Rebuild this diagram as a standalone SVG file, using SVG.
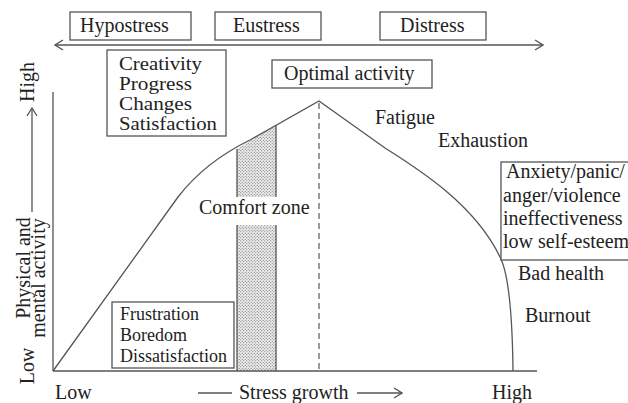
<svg xmlns="http://www.w3.org/2000/svg" width="628" height="403" viewBox="0 0 628 403">
<style>
text{font-family:"Liberation Serif","Times New Roman",serif;fill:#222;}
.t20{font-size:20px;}
.t18{font-size:18px;}
.box{fill:#fff;stroke:#555;stroke-width:1.3;}
.ln{fill:none;stroke:#555;stroke-width:1.3;}
.dash{fill:none;stroke:#666;stroke-width:1.3;stroke-dasharray:6 4;}
</style>
<defs>
<pattern id="dots" width="3" height="3" patternUnits="userSpaceOnUse">
<rect width="3" height="3" fill="#eeeeee"/>
<circle cx="0.75" cy="0.75" r="0.6" fill="#666"/>
<circle cx="2.25" cy="2.25" r="0.6" fill="#666"/>
</pattern>
<marker id="chev" markerWidth="10" markerHeight="12" refX="9" refY="6" orient="auto" markerUnits="userSpaceOnUse">
<path d="M1,1 L9,6 L1,11" fill="none" stroke="#555" stroke-width="1.3"/>
</marker>
<marker id="chevS" markerWidth="10" markerHeight="12" refX="1" refY="6" orient="auto" markerUnits="userSpaceOnUse">
<path d="M9,1 L1,6 L9,11" fill="none" stroke="#555" stroke-width="1.3"/>
</marker>
</defs>
<rect width="628" height="403" fill="#fff"/>

<g id="comfort-zone">
<polygon points="237,149 276,125 276,197 237,197" fill="url(#dots)"/>
<polygon points="237,225 276,225 276,371 237,371" fill="url(#dots)"/>
<path class="ln" d="M237,149 V197 M276,125 V197 M237,225 V371 M276,225 V371"/>
<text class="t20" x="199" y="214">Comfort zone</text>
</g>

<g id="connectors">
<line class="ln" x1="55" y1="45" x2="543" y2="45" marker-start="url(#chevS)" marker-end="url(#chev)"/>
<line class="ln" x1="53" y1="92" x2="53" y2="371"/>
<line class="ln" x1="53" y1="371" x2="537" y2="371"/>
<line class="ln" x1="32" y1="212" x2="32" y2="108" marker-end="url(#chev)"/>
<line class="ln" x1="198" y1="393" x2="232" y2="393"/>
<line class="ln" x1="357" y1="393" x2="402" y2="393" marker-end="url(#chev)"/>
<line class="dash" x1="319" y1="103" x2="319" y2="371"/>
<path class="ln" d="M53,371 L178,197 Q205,162 250,140 L319,101 L385,148 C420,170 475,205 500,257 Q512,280 513,371"/>
</g>

<g id="hypostress">
<rect class="box" x="70" y="12" width="121" height="28"/>
<text class="t20" x="80" y="32">Hypostress</text>
</g>
<g id="eustress">
<rect class="box" x="215" y="12" width="106" height="28"/>
<text class="t20" x="233" y="32">Eustress</text>
</g>
<g id="distress">
<rect class="box" x="380" y="12" width="106" height="28"/>
<text class="t20" x="400" y="32">Distress</text>
</g>

<g id="creativity">
<rect class="box" x="107" y="50" width="119" height="86"/>
<text class="t18" x="119" y="70" textLength="83" lengthAdjust="spacingAndGlyphs">Creativity</text>
<text class="t18" x="119" y="90" textLength="73" lengthAdjust="spacingAndGlyphs">Progress</text>
<text class="t18" x="119" y="110" textLength="73" lengthAdjust="spacingAndGlyphs">Changes</text>
<text class="t18" x="119" y="130" textLength="98" lengthAdjust="spacingAndGlyphs">Satisfaction</text>
</g>

<g id="optimal-activity">
<rect class="box" x="272" y="60" width="160" height="28"/>
<text class="t20" x="284" y="80">Optimal activity</text>
</g>

<g id="frustration">
<rect class="box" x="112" y="302" width="122" height="66"/>
<text class="t18" x="120" y="320">Frustration</text>
<text class="t18" x="120" y="341">Boredom</text>
<text class="t18" x="120" y="362">Dissatisfaction</text>
</g>

<g id="fatigue"><text class="t20" x="375" y="124">Fatigue</text></g>
<g id="exhaustion"><text class="t20" x="438" y="147">Exhaustion</text></g>

<g id="distress-effects">
<rect class="box" x="501" y="162" width="140" height="98"/>
<text class="t20" x="506" y="178">Anxiety/panic/</text>
<text class="t20" x="503" y="202">anger/violence</text>
<text class="t20" x="503" y="225">ineffectiveness</text>
<text class="t20" x="503" y="248">low self-esteem</text>
</g>

<g id="bad-health"><text class="t20" x="518" y="280">Bad health</text></g>
<g id="burnout"><text class="t20" x="525" y="322">Burnout</text></g>

<g id="axis-labels">
<text class="t20" x="55" y="399">Low</text>
<text class="t20" x="239" y="399">Stress growth</text>
<text class="t20" x="492" y="399">High</text>
<text class="t20" transform="translate(34,82) rotate(-90)" text-anchor="middle">High</text>
<text class="t20" transform="translate(34,366) rotate(-90)" text-anchor="middle">Low</text>
<text class="t20" transform="translate(30,268) rotate(-90)" text-anchor="middle">Physical and</text>
<text class="t20" transform="translate(45,278) rotate(-90)" text-anchor="middle">mental activity</text>
</g>
</svg>
